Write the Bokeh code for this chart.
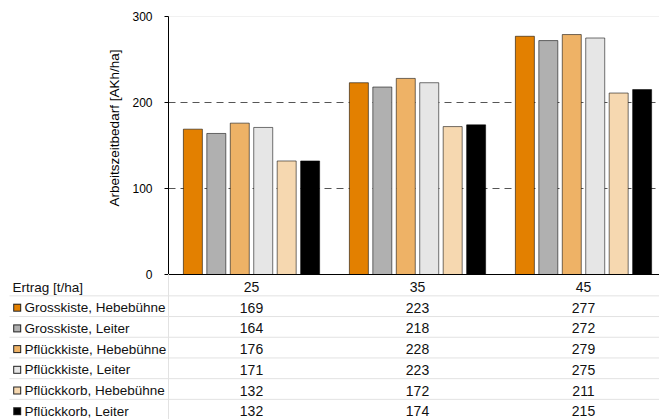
import math

from bokeh.core.properties import value
from bokeh.embed import file_html
from bokeh.models import ColumnDataSource, FixedTicker, Grid, Range1d, Span
from bokeh.plotting import figure
from bokeh.resources import INLINE
from bokeh.transform import dodge

# ---- data -------------------------------------------------------------
yields = ["25", "35", "45"]
series_names = [
    "Grosskiste, Hebebühne",
    "Grosskiste, Leiter",
    "Pflückkiste, Hebebühne",
    "Pflückkiste, Leiter",
    "Pflückkorb, Hebebühne",
    "Pflückkorb, Leiter",
]
grosskiste_hebebuehne = [169, 223, 277]
grosskiste_leiter = [164, 218, 272]
pflueckkiste_hebebuehne = [176, 228, 279]
pflueckkiste_leiter = [171, 223, 275]
pflueckkorb_hebebuehne = [132, 172, 211]
pflueckkorb_leiter = [132, 174, 215]
y_ticks = [0, 100, 200, 300]
header_label = "Ertrag [t/ha]"
y_title = "Arbeitszeitbedarf [AKh/ha]"

series_values = [
    grosskiste_hebebuehne,
    grosskiste_leiter,
    pflueckkiste_hebebuehne,
    pflueckkiste_leiter,
    pflueckkorb_hebebuehne,
    pflueckkorb_leiter,
]
colors = ["#e38000", "#b0b0b0", "#eeb266", "#e6e6e6", "#f6d8b0", "#000000"]

# ---- layout (pixels) --------------------------------------------------
W, H = 659, 419
LEFT = 168           # left edge of the plotting frame
TOP = 16             # value 300
ZERO = 274           # value 0
BAND = 166.0         # pixels per yield category
ROW = 20.7           # table row pitch
HEADER_Y = 285.0     # centre of the table header row
TEXT_DROP = 1.5      # table text sits slightly below the row centre
FONT = "Liberation Sans"

px_per_unit = (ZERO - TOP) / 300.0
x_end = -0.5 + (W - LEFT) / BAND
x0 = -0.5 - LEFT / BAND                 # x value at the left page edge
y_bottom = -(H - ZERO) / px_per_unit
cat_x = list(range(len(yields)))


def px(n):
    """horizontal pixel distance in x units"""
    return n / BAND


p = figure(
    width=W, height=H,
    x_range=Range1d(-0.5, x_end), y_range=Range1d(y_bottom, 300),
    output_backend="svg", toolbar_location=None,
    min_border_left=LEFT, min_border_right=0,
    min_border_top=TOP, min_border_bottom=0,
    x_axis_location=None,
)
p.extra_y_ranges = {
    "rows": Range1d(-(H - HEADER_Y) / ROW, (HEADER_Y - TOP) / ROW)
}
p.outline_line_color = None
p.background_fill_color = "white"
p.border_fill_color = "white"

# ---- bars -------------------------------------------------------------
pitch = px(23.45)
bar_w = px(19.0)
for i, vals in enumerate(series_values):
    src = ColumnDataSource(dict(x=cat_x, top=vals))
    p.vbar(x=dodge("x", (i - 2.5) * pitch), top="top", bottom=0, width=bar_w,
           source=src, fill_color=colors[i], line_color="black",
           line_alpha=0.55, line_width=1)

p.add_layout(Span(location=0, dimension="width", line_color="black",
                  line_width=1))

# ---- y axis and grid --------------------------------------------------
p.yaxis.ticker = FixedTicker(ticks=y_ticks)
p.yaxis.bounds = (0, 300)
p.yaxis.major_tick_out = 4
p.yaxis.major_tick_in = 0
p.yaxis.minor_tick_out = 0
p.yaxis.minor_tick_in = 0
p.yaxis.major_label_standoff = 12
p.yaxis.major_label_text_font = FONT
p.yaxis.major_label_text_font_size = "12px"
p.yaxis.major_label_text_color = "black"
p.yaxis.axis_line_color = "black"
p.yaxis.major_tick_line_color = "black"

p.xgrid.visible = False
p.ygrid.ticker = FixedTicker(ticks=[100, 200])
p.ygrid.grid_line_color = "#555555"
p.ygrid.grid_line_dash = "7 5"
p.add_layout(Grid(dimension=1, ticker=FixedTicker(ticks=[299.5]),
                  grid_line_color="#e4e4e4"))

# y axis title, drawn left of the frame
p.text(x=[x0 + px(114)], y=[(ZERO - 127.5) / px_per_unit], text=[y_title],
       angle=math.pi / 2, text_align="center", text_baseline="middle",
       text_font=value(FONT), text_font_size="13.5px", text_color="black",
       level="overlay")

# ---- data table under the chart ----------------------------------------
n_rows = len(series_names)
line_ys = [-(r + 0.5) for r in range(n_rows)]
p.segment(x0=[x0 + px(9)] * n_rows, x1=[x_end] * n_rows,
          y0=line_ys, y1=line_ys, y_range_name="rows",
          line_color="#e2e2e2", line_width=1, level="overlay")
p.segment(x0=[-0.5], x1=[-0.5], y0=[0.55], y1=[-(n_rows + 1)],
          y_range_name="rows", line_color="#e2e2e2", line_width=1,
          level="overlay")

text_kw = dict(text_font=value(FONT), text_color="#111111",
               text_baseline="middle", y_offset=TEXT_DROP,
               y_range_name="rows", level="overlay")

row_y = [-(i + 1) for i in range(n_rows)]

# header row
p.text(x=[x0 + px(12)], y=[0], text=[header_label], text_align="left",
       text_font_size="13.5px", **text_kw)
p.text(x=cat_x, y=[0] * len(yields), text=yields, text_align="center",
       text_font_size="14px", **text_kw)

# colour swatches: an outlined 8 px square per series
sw_y = [y - TEXT_DROP / ROW for y in row_y]
sw_x = x0 + px(16.7)
p.segment(x0=[sw_x - px(4)] * n_rows, x1=[sw_x + px(4)] * n_rows,
          y0=sw_y, y1=sw_y, y_range_name="rows", line_color="#222222",
          line_width=8, line_cap="butt", level="overlay")
p.segment(x0=[sw_x - px(3)] * n_rows, x1=[sw_x + px(3)] * n_rows,
          y0=sw_y, y1=sw_y, y_range_name="rows", line_color=colors,
          line_width=6, line_cap="butt", level="overlay")

p.text(x=[x0 + px(24)] * n_rows, y=row_y, text=series_names,
       text_align="left", text_font_size="13.5px", **text_kw)
for i, vals in enumerate(series_values):
    p.text(x=cat_x, y=[row_y[i]] * len(vals), text=[str(v) for v in vals],
           text_align="center", text_font_size="14px", **text_kw)

open("out.html", "w").write(file_html(p, INLINE))
